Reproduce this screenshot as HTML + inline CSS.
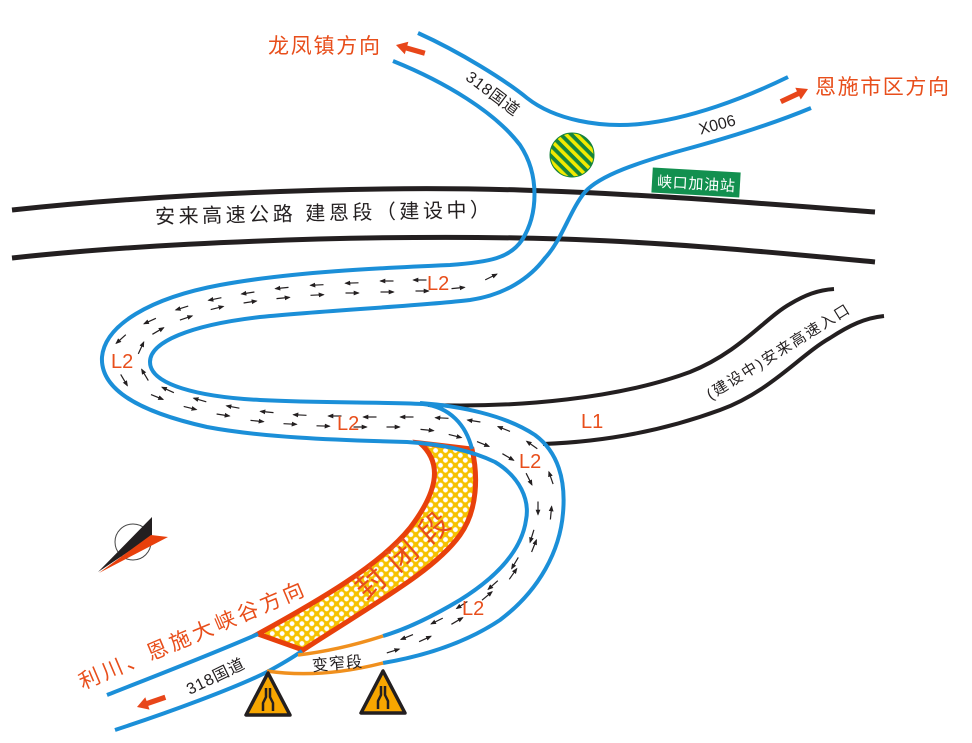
<!DOCTYPE html>
<html><head><meta charset="utf-8"><style>
html,body{margin:0;padding:0;background:#fff;}
svg{display:block;}
text{font-family:"Liberation Sans","Noto Sans CJK SC",sans-serif;}
</style></head><body>
<svg width="972" height="743" viewBox="0 0 972 743" xmlns="http://www.w3.org/2000/svg">
<defs>
<marker id="ah" viewBox="0 0 10 10" refX="8" refY="5" markerWidth="5" markerHeight="5" orient="auto"><path d="M0,1 L10,5 L0,9 z" fill="#231f20"/></marker>
<pattern id="mesh" width="7" height="7" patternUnits="userSpaceOnUse" patternTransform="rotate(45)"><rect width="7" height="7" fill="#f6c200"/><circle cx="3.5" cy="3.5" r="2.4" fill="#fff"/></pattern>
<pattern id="stripe" width="7.4" height="7.4" patternUnits="userSpaceOnUse" patternTransform="rotate(45)"><rect width="7.4" height="7.4" fill="#f2ea00"/><rect width="7.4" height="3.8" fill="#16843b"/></pattern>
</defs>
<rect width="972" height="743" fill="#fff"/>

<g fill="none" stroke="#231f20" stroke-width="5">
<path d="M12,210 C150,195 350,185 520,190 C650,194 780,205 875,212"/>
<path d="M12,258 C150,243 350,235 520,238 C650,240 780,253 875,262"/>
</g>
<g fill="none" stroke="#231f20" stroke-width="4">
<path d="M428,405 C520,408 620,398 690,372 C740,352 765,318 790,304 C805,295 818,290 834,289"/>
<path d="M543,444 C600,442 660,432 720,410 C770,392 800,355 830,338 C850,325 865,318 884,316"/>
</g>

<path d="M420,443 L472,449 C478,475 478,510 460,535 C435,570 380,600 303,650 L258,634 C320,600 380,565 410,528 C435,495 445,465 420,443 Z" fill="url(#mesh)" stroke="#e8400c" stroke-width="5" stroke-linejoin="miter"/>

<g fill="none" stroke="#1b8fd8" stroke-width="4">
<path d="M418,33 C460,52 505,80 527,98 C555,120 600,128 640,124 C690,119 745,98 788,77"/>
<path d="M393,61 C445,82 495,112 520,145 C540,175 538,215 522,240 C510,258 490,262 450,265 C380,268 290,272 220,285 C150,298 105,325 102,357 C100,390 140,412 207,427 C260,437 330,440 407,442 C440,444 470,450 495,462 C520,477 530,500 526,520 C522,548 500,575 460,600 C435,615 410,628 383,636"/>
<path d="M811,108 C770,125 720,140 683,150 C640,162 600,175 585,192 C570,210 562,240 545,258 C530,278 505,295 470,300 C420,306 330,310 260,317 C190,325 150,342 150,362 C150,385 200,397 260,400 C320,403 380,402 423,404 C450,407 466,425 472,449"/>
<path d="M420,403 C460,406 505,415 535,435 C558,452 566,480 563,513 C560,550 540,590 500,620 C470,640 430,655 383,663"/>
<path d="M107,695 C150,678 210,655 258,634"/>
<path d="M115,730 C170,712 235,688 267,672 C280,665 292,658 302,651"/>
</g>
<g fill="none" stroke="#f0901e" stroke-width="3.5">
<path d="M267,671 Q320,679 383,663"/>
<path d="M298,655 Q340,650 383,636"/>
</g>

<g stroke="#231f20" stroke-width="1.2" marker-end="url(#ah)">
<line x1="426.5" y1="280" x2="413.5" y2="280"/>
<line x1="393.5" y1="281" x2="380.5" y2="281"/>
<line x1="358.5" y1="282.8" x2="345.5" y2="283.2"/>
<line x1="323.5" y1="284.7" x2="310.5" y2="285.3"/>
<line x1="288.5" y1="287.4" x2="275.5" y2="288.6"/>
<line x1="254.4" y1="292" x2="241.6" y2="294"/>
<line x1="221.4" y1="297.7" x2="208.6" y2="300.3"/>
<line x1="188.2" y1="306.1" x2="175.8" y2="309.9"/>
<line x1="155.9" y1="318.3" x2="144.1" y2="323.7"/>
<line x1="125.8" y1="334.7" x2="116.2" y2="343.3"/>
<line x1="120.7" y1="374.4" x2="127.3" y2="385.6"/>
<line x1="151" y1="394.6" x2="163" y2="399.4"/>
<line x1="183.7" y1="406.4" x2="196.3" y2="409.6"/>
<line x1="216.6" y1="414" x2="229.4" y2="416"/>
<line x1="250.5" y1="420.4" x2="263.5" y2="421.6"/>
<line x1="283.5" y1="423.7" x2="296.5" y2="424.3"/>
<line x1="316.5" y1="425.8" x2="329.5" y2="426.2"/>
<line x1="353.5" y1="427" x2="366.5" y2="427"/>
<line x1="386.5" y1="427" x2="399.5" y2="427"/>
<line x1="420.5" y1="429.4" x2="433.5" y2="430.6"/>
<line x1="448.7" y1="434.4" x2="461.3" y2="437.6"/>
<line x1="477" y1="441.6" x2="489" y2="446.4"/>
<line x1="502.4" y1="453.7" x2="513.6" y2="460.3"/>
<line x1="526.1" y1="473.2" x2="531.9" y2="484.8"/>
<line x1="538" y1="501.5" x2="538" y2="514.5"/>
<line x1="533.9" y1="529.8" x2="530.1" y2="542.2"/>
<line x1="518.3" y1="557.4" x2="511.7" y2="568.6"/>
<line x1="497.8" y1="580.7" x2="488.2" y2="589.3"/>
<line x1="467.4" y1="601.5" x2="456.6" y2="608.5"/>
<line x1="442.8" y1="618.1" x2="431.2" y2="623.9"/>
<line x1="413" y1="634.6" x2="401" y2="639.4"/>
<line x1="386.8" y1="652.9" x2="399.2" y2="649.1"/>
<line x1="419.1" y1="641.7" x2="430.9" y2="636.3"/>
<line x1="451.4" y1="624.3" x2="462.6" y2="617.7"/>
<line x1="482" y1="600.2" x2="492" y2="591.8"/>
<line x1="509.3" y1="579.3" x2="516.7" y2="568.7"/>
<line x1="531.6" y1="552" x2="536.4" y2="540"/>
<line x1="550.4" y1="519.5" x2="551.6" y2="506.5"/>
<line x1="553.1" y1="484.1" x2="548.9" y2="471.9"/>
<line x1="537.3" y1="448.7" x2="526.7" y2="441.3"/>
<line x1="510" y1="431.4" x2="498" y2="426.6"/>
<line x1="480.4" y1="422" x2="467.6" y2="420"/>
<line x1="448.5" y1="418.3" x2="435.5" y2="417.7"/>
<line x1="413.5" y1="417" x2="400.5" y2="417"/>
<line x1="376.5" y1="417" x2="363.5" y2="417"/>
<line x1="341.5" y1="416" x2="328.5" y2="416"/>
<line x1="306.5" y1="415.3" x2="293.5" y2="414.7"/>
<line x1="273.5" y1="412.6" x2="260.5" y2="411.4"/>
<line x1="239.4" y1="408.2" x2="226.6" y2="405.8"/>
<line x1="206.3" y1="401.8" x2="193.7" y2="398.2"/>
<line x1="173.9" y1="392.7" x2="162.1" y2="387.3"/>
<line x1="148.3" y1="380.6" x2="141.7" y2="369.4"/>
<line x1="138.3" y1="353.9" x2="143.7" y2="342.1"/>
<line x1="152.4" y1="334.3" x2="163.6" y2="327.7"/>
<line x1="179.9" y1="320.1" x2="192.1" y2="315.9"/>
<line x1="210.7" y1="309.6" x2="223.3" y2="306.4"/>
<line x1="243.6" y1="303" x2="256.4" y2="301"/>
<line x1="276.5" y1="298.6" x2="289.5" y2="297.4"/>
<line x1="310.5" y1="295.3" x2="323.5" y2="294.7"/>
<line x1="345.5" y1="293" x2="358.5" y2="293"/>
<line x1="380.5" y1="292" x2="393.5" y2="292"/>
<line x1="415.5" y1="291" x2="428.5" y2="291"/>
<line x1="451.5" y1="288.6" x2="464.5" y2="287.4"/>
<line x1="485.2" y1="279.9" x2="496.8" y2="274.1"/>
</g>

<circle cx="572" cy="155" r="22" fill="url(#stripe)" stroke="#16843b" stroke-width="1"/>
<g transform="rotate(3.3,696,183)">
<rect x="652" y="170" width="88" height="25" fill="#12904f"/>
<text x="696" y="189" font-size="15" fill="#fff" text-anchor="middle" textLength="78" lengthAdjust="spacing">峡口加油站</text>
</g>

<g fill="#e8461a">
<g transform="translate(396,45) rotate(16)"><polygon points="0,0 11,-6.5 11,6.5"/><rect x="10" y="-2.6" width="20" height="5.2"/></g>
<g transform="translate(808,89) rotate(155)"><polygon points="0,0 11,-6.5 11,6.5"/><rect x="10" y="-2.6" width="20" height="5.2"/></g>
<g transform="translate(137,707) rotate(-19)"><polygon points="0,0 11,-6.5 11,6.5"/><rect x="10" y="-2.6" width="20" height="5.2"/></g>
</g>

<circle cx="133" cy="542" r="18" fill="none" stroke="#444" stroke-width="1"/>
<polygon points="98,572 152,517 152,536" fill="#231f20"/>
<polygon points="99,573 151,535 168,537" fill="#e8400c"/>

<g stroke="#231f20" stroke-linejoin="round">
<polygon points="268,673 246,715 290,715" fill="#f7a600" stroke-width="3.5"/>
<polygon points="383,671 361,713 405,713" fill="#f7a600" stroke-width="3.5"/>
<g fill="none" stroke-width="2.5">
<path d="M263,711 L263,703 L266,697 L266,688"/>
<path d="M273,711 L273,703 L270,697 L270,688"/>
<path d="M378,709 L378,701 L381,695 L381,686"/>
<path d="M388,709 L388,701 L385,695 L385,686"/>
</g>
</g>

<g fill="#e84e1b">
<text x="268" y="53" font-size="21" textLength="112" lengthAdjust="spacing">龙凤镇方向</text>
<text x="815" y="94" font-size="21" textLength="134" lengthAdjust="spacing">恩施市区方向</text>
<text x="427" y="290" font-size="20">L2</text>
<text x="111" y="368" font-size="20">L2</text>
<text x="337" y="430" font-size="20">L2</text>
<text x="519" y="468" font-size="20">L2</text>
<text x="462" y="615" font-size="20">L2</text>
<text x="581" y="428" font-size="20">L1</text>
<g transform="rotate(-41,402,555)"><text x="402" y="566" font-size="30" text-anchor="middle" textLength="114" lengthAdjust="spacing">封闭段</text></g>
<g transform="rotate(-23,191,635)"><text x="191" y="643" font-size="21" text-anchor="middle" textLength="242" lengthAdjust="spacing">利川、恩施大峡谷方向</text></g>
</g>

<g fill="#231f20">
<g transform="rotate(-1.2,322,212)"><text x="155" y="220" font-size="20" textLength="335" lengthAdjust="spacing">安来高速公路 建恩段（建设中）</text></g>
<g transform="rotate(37,493,93)"><text x="493" y="99" font-size="16" text-anchor="middle" textLength="62" lengthAdjust="spacing">318国道</text></g>
<g transform="rotate(-15,717,124)"><text x="717" y="130" font-size="16" text-anchor="middle">X006</text></g>
<g transform="rotate(-32,778,352)"><text x="778" y="357" font-size="15" text-anchor="middle" textLength="165" lengthAdjust="spacing">(建设中)安来高速入口</text></g>
<g transform="rotate(-26,215,676)"><text x="215" y="682" font-size="16" text-anchor="middle" textLength="62" lengthAdjust="spacing">318国道</text></g>
<g transform="rotate(-5,337,663)"><text x="337" y="669" font-size="16" text-anchor="middle" textLength="50" lengthAdjust="spacing">变窄段</text></g>
</g>
</svg>
</body></html>
